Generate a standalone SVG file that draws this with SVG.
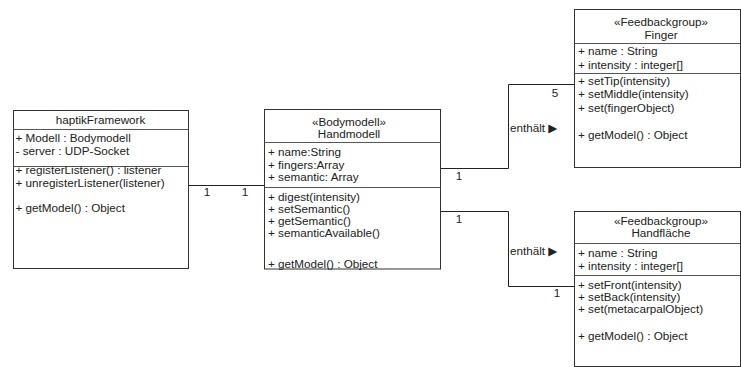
<svg xmlns="http://www.w3.org/2000/svg" width="741" height="367" viewBox="0 0 741 367">
<style>
  text { font-family: "Liberation Sans", Arial, "DejaVu Sans", sans-serif; font-size: 11.7px; fill: #222; }
  .c { text-anchor: middle; }
  .box { fill: #fff; stroke: #333; stroke-width: 1; }
  .sep { stroke: #555; stroke-width: 1; }
  .conn { fill: none; stroke: #222; stroke-width: 1; }
</style>
<rect width="741" height="367" fill="#fff"/>
<g id="connectors">
  <path class="conn" d="M188.5 185.5 H264.5"/>
  <path class="conn" d="M440.5 168.5 H508.5 V84.5 H574.5"/>
  <path class="conn" d="M440.5 211.5 H508.5 V286.5 H574.5"/>
  <text x="207" y="196" class="c">1</text>
  <text x="245" y="196" class="c">1</text>
  <text x="459" y="180" class="c">1</text>
  <text x="555" y="96.5" class="c">5</text>
  <text x="510" y="132">enthält ▶</text>
  <text x="459" y="222.5" class="c">1</text>
  <text x="557" y="296.5" class="c">1</text>
  <text x="510" y="255">enthält ▶</text>
</g>
<g id="haptikFramework">
  <rect class="box" x="13.5" y="110.5" width="175" height="158"/>
  <line class="sep" x1="13.5" y1="129.5" x2="188.5" y2="129.5"/>
  <line class="sep" x1="13.5" y1="166.5" x2="188.5" y2="166.5"/>
  <text x="100.5" y="124" class="c">haptikFramework</text>
  <text x="15.5" y="142">+ Modell : Bodymodell</text>
  <text x="15.5" y="155">- server : UDP-Socket</text>
  <text x="15.5" y="174">+ registerListener() : listener</text>
  <text x="15.5" y="186.5">+ unregisterListener(listener)</text>
  <text x="15.5" y="212">+ getModel() : Object</text>
</g>
<g id="Handmodell">
  <rect class="box" x="264.5" y="109.5" width="176" height="159.5"/>
  <line class="sep" x1="264.5" y1="142.5" x2="440.5" y2="142.5"/>
  <line class="sep" x1="264.5" y1="187.5" x2="440.5" y2="187.5"/>
  <text x="349" y="125.5" class="c">«Bodymodell»</text>
  <text x="349" y="137.5" class="c">Handmodell</text>
  <text x="268" y="156">+ name:String</text>
  <text x="268" y="168.5">+ fingers:Array</text>
  <text x="268" y="181">+ semantic: Array</text>
  <text x="268" y="200.5">+ digest(intensity)</text>
  <text x="268" y="212.5">+ setSemantic()</text>
  <text x="268" y="224.5">+ getSemantic()</text>
  <text x="268" y="237">+ semanticAvailable()</text>
  <text x="268" y="268">+ getModel() : Object</text>
</g>
<g id="Finger">
  <rect class="box" x="574.5" y="9.5" width="166" height="158"/>
  <line class="sep" x1="574.5" y1="43.5" x2="740.5" y2="43.5"/>
  <line class="sep" x1="574.5" y1="73.5" x2="740.5" y2="73.5"/>
  <text x="661" y="26" class="c">«Feedbackgroup»</text>
  <text x="661" y="38.5" class="c">Finger</text>
  <text x="578" y="55">+ name : String</text>
  <text x="578" y="68.5">+ intensity : integer[]</text>
  <text x="578" y="84.5">+ setTip(intensity)</text>
  <text x="578" y="98">+ setMiddle(intensity)</text>
  <text x="578" y="111.5">+ set(fingerObject)</text>
  <text x="578" y="138.5">+ getModel() : Object</text>
</g>
<g id="Handflaeche">
  <rect class="box" x="574.5" y="211.5" width="166" height="155"/>
  <line class="sep" x1="574.5" y1="243.5" x2="740.5" y2="243.5"/>
  <line class="sep" x1="574.5" y1="275.5" x2="740.5" y2="275.5"/>
  <text x="661" y="224.5" class="c">«Feedbackgroup»</text>
  <text x="661" y="237" class="c">Handfläche</text>
  <text x="578" y="256.5">+ name : String</text>
  <text x="578" y="269.5">+ intensity : integer[]</text>
  <text x="578" y="288.5">+ setFront(intensity)</text>
  <text x="578" y="300.5">+ setBack(intensity)</text>
  <text x="578" y="312.5">+ set(metacarpalObject)</text>
  <text x="578" y="340">+ getModel() : Object</text>
</g>
</svg>
